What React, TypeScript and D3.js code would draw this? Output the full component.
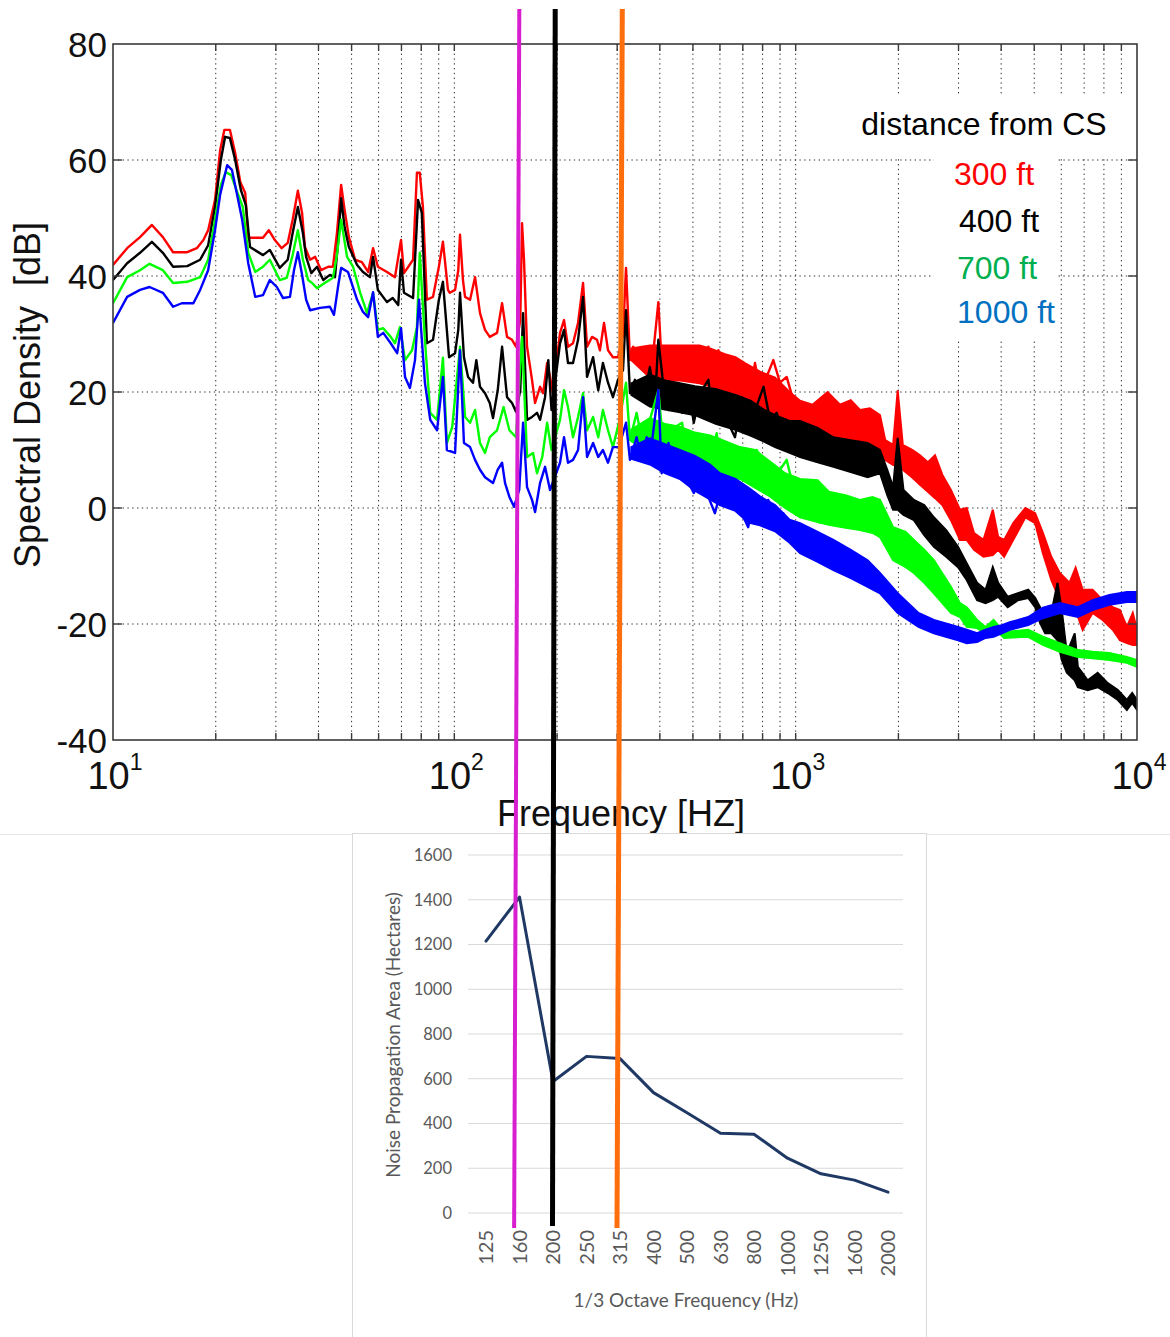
import React from 'react';
import * as d3 from 'd3';

// ---------- Top chart data (frequency Hz, dB) ----------
const redTrace: [number, number][] = [
  [10, 41.9], [11.0, 44.8], [12.0, 46.7], [13.0, 48.8], [14.0, 46.7], [15.0, 44.1], [16.5, 44.1], [17.6, 44.8], [18.4, 46.2], [19.0, 47.9], [19.9, 53.1], [20.6, 61.7], [21.2, 65.2], [22.0, 65.2], [22.8, 61.2], [23.6, 56.2], [24.4, 54.3], [24.9, 46.6], [27.5, 46.6], [28.6, 47.9], [29.8, 46.2], [31.2, 44.8], [32.5, 45.7], [33.6, 49.7], [34.8, 54.7], [35.8, 50.9], [36.5, 45.0], [37.8, 42.8], [39.1, 43.3], [40.7, 41.0], [42.7, 41.6], [44.1, 41.6], [45.3, 47.4], [46.6, 55.7], [47.7, 51.4], [49.1, 46.7], [51.2, 42.8], [53.6, 42.4], [55.9, 40.7], [57.8, 44.8], [59.7, 41.6], [63.5, 40.7], [67.0, 39.8], [69.8, 46.2], [71.2, 40.5], [75.7, 42.8], [77.7, 57.8], [79.2, 57.8], [80.9, 51.9], [83.1, 35.9], [86.6, 36.4], [90.1, 41.6], [92.6, 45.9], [95.8, 37.6], [97, 37.1], [100.5, 37.6], [102.7, 41.0], [103.9, 47.1], [106, 39.3], [107.5, 36.4], [111.2, 35.9], [115, 39.8], [118.9, 33.6], [123, 30.7], [127, 29.5], [133.4, 30.2], [138, 35.3], [142.7, 29.5], [147.6, 29.0], [151.6, 27.8], [156, 32.4], [157.9, 49.1], [160, 42.8], [163.3, 27.8], [168.9, 22.1], [172.4, 18.1], [178.3, 20.9], [182, 19.8], [187, 25.0], [190.7, 22.6], [194.5, 19.8], [204, 30.2], [209.6, 32.4], [215.3, 27.8], [222.7, 28.4], [230.4, 31.9], [238.3, 38.8], [244.8, 27.8], [253.2, 29.5], [261.8, 29.0], [267, 27.2], [274.5, 31.9], [282, 27.2], [291.5, 26.0], [301.7, 26.0], [312, 29.8], [318.4, 41.4],
  [327, 25.5], [334, 27.8], [350, 26.7], [366, 25.0], [379, 24.3], [396, 35.5], [405, 25.0], [419, 27.8], [439, 23.3], [465, 27.2], [481, 22.1], [497, 27.2], [525, 26.0], [555, 27.8], [574, 22.6], [594, 27.2], [614, 22.1], [635, 23.8], [664, 17.4], [702, 22.6], [734, 19.1], [760, 25.0], [786, 20.3], [831, 23.3], [860, 25.5], [900, 21.6], [941, 22.6], [984, 18.6], [1030, 17.4], [1077, 15.7], [1126, 17.4], [1178, 15.2],
];
const blackTrace: [number, number][] = [
  [10, 39.3], [11.0, 42.2], [12.0, 44.0], [13.0, 45.9], [14.0, 44.0], [15.0, 41.6], [16.5, 41.7], [18.0, 42.8], [19.0, 45.3], [19.9, 51.9], [20.7, 60.0], [21.3, 64.0], [22.0, 63.8], [22.8, 60.0], [23.7, 54.8], [24.5, 52.2], [25.2, 45.0], [27.5, 43.6], [28.8, 44.5], [30.8, 41.4], [32.5, 42.8], [33.6, 47.4], [34.8, 51.9], [36.0, 47.4], [36.8, 43.3], [38.1, 40.5], [39.6, 41.6], [41.3, 39.3], [43.2, 40.2], [44.7, 39.8], [45.7, 46.2], [46.6, 53.4], [47.7, 48.4], [49.1, 45.0], [51.9, 41.9], [54.0, 40.7], [56.6, 39.8], [57.8, 43.3], [59.7, 37.6], [63.5, 35.5], [66.0, 36.2], [68.5, 35.0], [69.8, 42.8], [71.2, 37.1], [75.7, 36.2], [78.3, 53.1], [80.3, 50.9], [83.1, 28.4], [86.6, 29.0], [90.1, 35.9], [92.6, 39.0], [96.5, 26.0], [100.5, 26.7], [102.7, 30.7], [103.9, 37.1], [106.7, 26.0], [109.7, 22.6], [113.4, 21.6], [116, 25.5], [118.9, 20.9], [123, 19.8], [127, 18.1], [129.8, 15.5], [134, 20.3], [138, 27.8], [142.7, 19.1], [147.6, 18.1], [151.6, 16.6], [156, 20.3], [159, 33.6], [163.3, 15.2], [168.9, 15.7], [174.7, 16.4], [178.3, 15.2], [184.4, 19.1], [188.5, 25.5], [192.6, 16.9], [204, 28.4], [209.6, 30.7], [215.3, 25.0], [222.7, 25.0], [230.4, 29.0], [238.3, 36.4], [244.8, 22.6], [255, 26.0], [264, 20.3], [272.5, 25.0], [282, 21.6], [291.5, 19.1], [301.7, 22.1], [312, 23.8], [318.4, 34.1],
  [327, 19.8], [338, 22.1], [350, 20.9], [362, 19.8], [374, 24.3], [387, 18.1], [396, 29.0], [410, 20.9], [424, 16.9], [444, 19.1], [465, 16.4], [486, 20.3], [503, 14.7], [525, 19.8], [555, 22.1], [574, 15.2], [601, 17.6], [628, 15.2], [664, 12.2], [695, 19.1], [726, 12.9], [769, 17.6], [805, 20.9], [841, 15.2], [880, 16.4], [920, 12.2], [962, 11.2], [1006, 12.2], [1051, 9.5], [1114, 9.5], [1178, 7.8],
];
const greenTrace: [number, number][] = [
  [10, 35.3], [11.0, 39.8], [12.0, 41.0], [12.8, 42.1], [14.0, 41.0], [15.0, 38.8], [16.5, 39.0], [18.0, 39.8], [19.0, 42.8], [19.9, 49.7], [20.7, 55.7], [21.4, 57.9], [22.2, 57.4], [23.0, 54.8], [24.0, 51.9], [24.9, 44.0], [26.1, 40.7], [27.5, 41.6], [28.8, 42.8], [30.8, 39.3], [32.3, 39.7], [33.6, 43.6], [34.8, 47.9], [36.0, 42.8], [37.3, 39.3], [38.3, 38.8], [39.6, 37.9], [41.7, 38.8], [44.1, 39.7], [45.3, 43.6], [46.6, 49.7], [48.5, 43.3], [50.5, 41.6], [53.0, 37.1], [55.5, 33.6], [57.8, 37.1], [59.7, 30.7], [61.9, 31.0], [65.1, 29.5], [67.0, 28.4], [69.3, 31.2], [71.7, 25.5], [75.2, 27.2], [77.7, 31.2], [79.2, 44.0], [82.0, 29.0], [85.0, 16.4], [89.0, 15.2], [92.6, 25.9], [95.1, 11.2], [98.6, 14.0], [103.9, 27.8], [107.5, 15.7], [111.2, 14.7], [115, 16.9], [118.9, 11.2], [123, 9.5], [127, 12.2], [133.4, 13.4], [139.4, 17.4], [145, 13.4], [151.6, 12.2], [157.9, 29.5], [163.3, 8.8], [170, 9.5], [174.7, 6.0], [181, 8.8], [187, 14.7], [192.6, 10.0], [204, 15.2], [209.6, 20.3], [215.3, 17.4], [222.7, 12.2], [230.4, 15.7], [238.3, 19.8], [244.8, 13.4], [255, 15.7], [264, 12.2], [272.5, 16.9], [282, 13.4], [291.5, 10.5], [303.5, 14.7], [318.4, 21.6],
  [327, 11.7], [342, 16.4], [358, 10.5], [374, 15.2], [396, 20.3], [410, 10.5], [429, 7.1], [444, 14.0], [465, 14.7], [481, 7.1], [503, 12.9], [531, 11.7], [555, 7.1], [587, 12.9], [614, 4.8], [643, 9.5], [673, 7.1], [720, 8.8], [752, 7.1], [769, 10.0], [821, 6.6], [860, 3.1], [900, 6.6], [941, 8.3], [984, 3.6], [1040, 0.2], [1077, 1.9], [1150, -2.1], [1178, -2.6],
];
const blueTrace: [number, number][] = [
  [10, 31.9], [11.0, 36.4], [12.0, 37.6], [12.8, 38.1], [14.0, 37.1], [15.0, 34.7], [15.9, 35.3], [17.2, 35.3], [18.0, 37.6], [19.0, 41.0], [19.9, 47.9], [20.6, 54.0], [21.6, 59.1], [22.3, 58.3], [23.1, 54.0], [23.9, 49.7], [24.9, 42.2], [26.1, 36.4], [27.5, 36.7], [28.8, 39.3], [30.2, 38.1], [31.5, 36.2], [33.0, 36.4], [33.9, 41.0], [34.8, 44.1], [35.8, 40.2], [36.8, 35.9], [37.8, 34.1], [40.4, 34.5], [43.2, 34.7], [44.4, 33.3], [45.7, 38.4], [46.6, 41.4], [48.8, 40.7], [51.9, 35.9], [54.0, 33.8], [55.9, 32.9], [57.8, 37.2], [59.7, 29.5], [61.9, 30.2], [65.1, 28.4], [68.0, 26.7], [69.8, 31.0], [71.7, 22.6], [74.1, 20.7], [76.7, 25.5], [78.8, 35.9], [82.0, 21.6], [85.0, 15.2], [89.0, 13.4], [92.6, 22.6], [95.1, 10.0], [100.5, 9.5], [103.9, 27.2], [106.7, 11.2], [111.2, 10.5], [115, 8.3], [118.9, 6.6], [123, 5.3], [129.8, 4.3], [134, 6.6], [138, 7.8], [140.8, 4.3], [145, 1.9], [149.6, 0.2], [154.9, 3.1], [159, 14.7], [163.3, 3.6], [168.9, 1.4], [172.4, -0.7], [178.3, 4.3], [184.4, 7.1], [190.7, 3.1], [204, 7.8], [209.6, 12.2], [215.3, 7.8], [222.7, 8.3], [230.4, 10.0], [238.3, 19.1], [244.8, 8.8], [255, 11.2], [264, 8.8], [272.5, 10.0], [282, 7.8], [291.5, 10.5], [303.5, 10.5], [318.4, 14.7],
  [327, 8.3], [342, 12.2], [354, 8.3], [366, 12.2], [379, 11.2], [396, 20.3], [405, 6.0], [424, 11.2], [439, 7.1], [458, 8.3], [481, 4.8], [503, 2.6], [525, 4.8], [549, 2.6], [580, -0.9], [601, 2.6], [628, 5.3], [657, 1.4], [695, -0.9], [726, -3.3], [760, 2.6], [795, -0.9], [831, 1.4], [880, -2.1], [920, -0.9], [962, -3.3], [1006, -4.3], [1062, -5.5], [1126, -7.8], [1178, -6.7],
];

// dense high-frequency part: [frequency, lower dB, upper dB]
const redBand: [number, number, number][] = [
  [330, 25.5, 27.5], [374, 22.5, 28.0], [414, 22.0, 28.0], [458, 22.0, 28.0], [523, 21.5, 28.0], [561, 21.0, 27.5], [621, 19.5, 26.5], [666, 19.0, 26.0], [710, 18.5, 25.0], [786, 17.0, 23.5], [870, 16.0, 22.5], [960, 14.5, 20.0], [1030, 12.5, 18.5],
  [1120, 11.7, 17.8], [1240, 11.7, 20.0], [1349, 11.2, 17.8], [1450, 11.2, 18.6], [1544, 10.9, 16.9], [1650, 10.3, 17.2], [1766, 9.1, 16.0], [1830, 8.3, 11.7], [1930, 7.4, 10.9], [1990, 7.4, 20.3], [2060, 6.6, 10.9], [2200, 5.2, 10.0], [2313, 4.0, 9.1], [2440, 2.8, 7.9], [2560, 1.7, 9.1], [2690, 0.5, 5.7], [2850, -2.1, 3.1], [3030, -5.5, -0.3], [3170, -5.5, 0.0], [3330, -7.2, -4.3], [3550, -8.4, -5.5], [3780, -8.1, -0.3], [3920, -7.2, -5.0], [4080, -8.4, -5.5], [4340, -5.5, -2.6], [4710, -1.6, 0.0], [5030, -2.6, -0.9], [5300, -7.8, -4.3], [5610, -12.4, -8.4], [5940, -15.9, -11.2], [6340, -18.1, -12.9], [6610, -17.6, -10.3], [6930, -21.0, -14.1], [7410, -18.1, -14.1], [7930, -19.3, -15.9], [8490, -21.0, -17.1], [8910, -22.8, -17.6], [9340, -23.3, -20.5], [9720, -23.6, -18.1], [10000, -23.6, -21.0],
];
const blackBand: [number, number, number][] = [
  [330, 19.5, 21.5], [374, 17.5, 23.0], [414, 17.0, 22.0], [458, 16.5, 21.5], [507, 16.0, 21.0], [583, 14.5, 20.5], [666, 13.5, 19.5], [737, 12.5, 18.5], [805, 11.5, 17.0], [870, 10.5, 16.0], [960, 9.5, 15.0], [1030, 8.8, 15.0],
  [1160, 7.9, 13.8], [1290, 7.1, 12.2], [1450, 6.2, 11.7], [1625, 5.3, 11.2], [1766, 6.0, 10.0], [1855, 2.2, 6.6], [1930, -0.3, 3.6], [1990, -0.3, 12.1], [2070, -1.2, 3.1], [2220, -2.1, 1.4], [2380, -4.7, 0.5], [2540, -6.7, -1.6], [2760, -8.4, -3.8], [2990, -10.2, -6.7], [3170, -12.4, -9.5], [3400, -15.9, -12.9], [3600, -16.4, -14.1], [3780, -15.9, -10.2], [3920, -15.3, -12.9], [4180, -17.1, -15.3], [4480, -15.9, -14.7], [4800, -15.5, -14.1], [5030, -17.1, -15.5], [5200, -19.8, -17.1], [5380, -21.6, -19.3], [5610, -21.6, -18.1], [5850, -22.8, -12.9], [6020, -26.2, -17.6], [6230, -28.4, -25.0], [6570, -29.7, -21.6], [6710, -30.9, -27.4], [7170, -31.4, -29.7], [7670, -30.9, -28.4], [8210, -31.9, -30.2], [8790, -33.1, -31.4], [9340, -34.8, -33.1], [9680, -33.6, -31.9], [10000, -34.8, -33.1],
];
const greenBand: [number, number, number][] = [
  [330, 11.5, 13.5], [374, 10.0, 15.5], [414, 8.5, 14.5], [458, 8.0, 14.0], [507, 7.5, 13.0], [561, 6.0, 12.5], [621, 5.5, 11.5], [687, 5.0, 10.5], [760, 3.5, 10.0], [841, 2.0, 8.0], [931, 0.0, 6.0], [1030, -1.6, 5.0],
  [1160, -2.4, 4.8], [1250, -2.9, 2.8], [1400, -3.4, 2.2], [1544, -3.8, 1.4], [1680, -4.3, 1.9], [1766, -5.0, 1.4], [1930, -9.0, -3.3], [2100, -10.2, -4.1], [2220, -11.2, -5.5], [2380, -12.9, -7.2], [2540, -14.7, -9.0], [2850, -18.1, -13.6], [3030, -18.8, -16.4], [3170, -20.5, -17.1], [3400, -20.7, -19.3], [3600, -21.6, -20.5], [3800, -20.7, -19.3], [4080, -22.4, -21.4], [4800, -22.2, -21.0], [5300, -23.6, -22.2], [5940, -24.8, -23.3], [6710, -25.7, -24.5], [7410, -25.9, -24.8], [8300, -26.2, -25.0], [9340, -26.7, -25.7], [10000, -27.4, -26.2],
];
const blueBand: [number, number, number][] = [
  [330, 8.5, 10.5], [374, 7.5, 12.0], [414, 6.0, 11.0], [458, 5.0, 10.0], [507, 3.0, 9.0], [561, 1.5, 7.5], [600, 0.5, 6.0], [666, -0.5, 5.0], [728, -2.5, 3.5], [786, -3.0, 2.0], [870, -4.0, 0.5], [960, -6.0, -2.0], [1030, -7.8, -2.6],
  [1160, -9.3, -4.1], [1290, -10.7, -5.5], [1450, -12.1, -7.2], [1625, -13.6, -9.0], [1766, -14.7, -11.2], [1990, -18.1, -14.7], [2290, -20.5, -18.1], [2540, -21.6, -19.3], [2990, -22.8, -20.5], [3170, -23.3, -21.0], [3400, -23.1, -21.6], [3600, -22.4, -21.0], [3800, -22.2, -20.5], [4020, -21.6, -20.2], [4240, -21.0, -19.7], [4800, -20.2, -18.8], [5300, -19.0, -17.2], [5940, -18.1, -16.4], [6710, -18.8, -17.1], [7410, -17.6, -15.9], [8300, -16.7, -15.0], [9340, -16.2, -14.5], [10000, -16.2, -14.5],
];

const seriesColors = ['#ff0000', '#000000', '#00ff00', '#0000ff'];
const legendTitle = 'distance from CS';
const legendLabels = ['300 ft', '400 ft', '700 ft', '1000 ft'];
const legendColors = ['#ff0000', '#000000', '#00b050', '#0070c0'];
const dbTicks = [-40, -20, 0, 20, 40, 60, 80];
const decadeTicks = [10, 100, 1000, 10000];
const decadeExponents = ['1', '2', '3', '4'];

// ---------- Bottom chart data ----------
const octaveBands = ['125', '160', '200', '250', '315', '400', '500', '630', '800', '1000', '1250', '1600', '2000'];
const propagationArea = [1215, 1412, 588, 700, 690, 538, 448, 356, 352, 245, 175, 147, 93];
const areaTicks = [0, 200, 400, 600, 800, 1000, 1200, 1400, 1600];

// ---------- Marker lines drawn across both charts ----------
const markerColors = ['#d81fcf', '#000000', '#ff6e0c'];
const markerTopFreq = [155, 197.5, 310.5]; // where each line leaves the top chart (Hz)
const markerBottomIndex = [0.84, 1.985, 3.91]; // position on bottom chart, in category steps

export default function App() {
  const x = d3.scaleLog().domain([10, 10000]).range([113, 1137]);
  const y = d3.scaleLinear().domain([-40, 80]).range([740, 44]);
  const line = d3.line<[number, number]>().x(d => x(d[0])).y(d => y(d[1]));
  const area = d3.area<[number, number, number]>().x(d => x(d[0])).y0(d => y(d[1])).y1(d => y(d[2]));

  const minor: number[] = [];
  [10, 100, 1000].forEach(dec => { for (let k = 1; k <= 9; k++) minor.push(k * dec); });
  minor.push(10000);
  const inner = minor.filter(v => v > 10 && v < 10000);

  const traces = [redTrace, blackTrace, greenTrace, blueTrace];
  const bands = [redBand, blackBand, greenBand, blueBand];

  const xb = d3.scalePoint<string>().domain(octaveBands).range([486, 888]);
  const yb = d3.scaleLinear().domain([0, 1600]).range([1213, 855]);
  const bottomLine = d3.line<number>().x((_, i) => xb(octaveBands[i]) as number).y(d => yb(d));

  const topFont = "'Liberation Sans', Arial, sans-serif";
  const botFont = "Lato, 'Open Sans', sans-serif";

  return (
    <div style={{ position: 'absolute', left: 0, top: 0 }}>
      <svg width={1170} height={1337} viewBox="0 0 1170 1337" style={{ display: 'block', background: '#fff' }}>
        <defs>
          <clipPath id="plotClip">
            <rect x={113} y={44} width={1024} height={696} />
          </clipPath>
        </defs>
        <rect x={0} y={0} width={1170} height={1337} fill="#fff" />

        {/* grid */}
        <g stroke="#333" strokeWidth={1} strokeDasharray="1.4,3.4" fill="none">
          {inner.map(v => (
            <line key={'gv' + v} x1={x(v)} x2={x(v)} y1={44} y2={740} />
          ))}
          {dbTicks.filter(v => v > -40 && v < 80).map(v => (
            <line key={'gh' + v} x1={113} x2={1137} y1={y(v)} y2={y(v)} />
          ))}
        </g>

        {/* legend background boxes */}
        <rect x={850} y={95} width={278} height={63} fill="#fff" />
        <rect x={934} y={158} width={123} height={182} fill="#fff" />

        {/* curves */}
        <g clipPath="url(#plotClip)">
          {traces.map((t, i) => (
            <g key={'s' + i}>
              <path d={area(bands[i]) as string} fill={seriesColors[i]} stroke={seriesColors[i]} strokeWidth={2} strokeLinejoin="miter" />
              <path d={line(t) as string} fill="none" stroke={seriesColors[i]} strokeWidth={2.4} strokeLinejoin="round" />
            </g>
          ))}
        </g>

        {/* frame and ticks */}
        <rect x={113} y={44} width={1024} height={696} fill="none" stroke="#3a3a3a" strokeWidth={1.6} />
        <g stroke="#3a3a3a" strokeWidth={1.4}>
          {inner.map(v => (
            <g key={'tk' + v}>
              <line x1={x(v)} x2={x(v)} y1={740} y2={733} />
              <line x1={x(v)} x2={x(v)} y1={44} y2={51} />
            </g>
          ))}
          {dbTicks.filter(v => v > -40 && v < 80).map(v => (
            <g key={'ty' + v}>
              <line x1={113} x2={122} y1={y(v)} y2={y(v)} />
              <line x1={1128} x2={1137} y1={y(v)} y2={y(v)} />
            </g>
          ))}
        </g>

        {/* y tick labels */}
        <g fontFamily={topFont} fontSize={35} fill="#111" textAnchor="end">
          {dbTicks.map(v => (
            <text key={'yl' + v} x={107} y={y(v)} dy="0.36em">{v}</text>
          ))}
        </g>
        {/* x tick labels */}
        <g fontFamily={topFont} fill="#111" textAnchor="middle">
          {decadeTicks.map((v, i) => (
            <text key={'xl' + v} x={x(v) + 2} y={789} fontSize={38}>
              10<tspan dy={-19} fontSize={23}>{decadeExponents[i]}</tspan>
            </text>
          ))}
        </g>
        <text x={621} y={826} fontFamily={topFont} fontSize={36} fill="#111" textAnchor="middle">Frequency [HZ]</text>
        <text transform="translate(40,395) rotate(-90)" fontFamily={topFont} fontSize={36} fill="#111" textAnchor="middle" style={{ whiteSpace: 'pre' }}>Spectral Density  [dB]</text>

        {/* legend */}
        <g fontFamily={topFont} fontSize={32} textAnchor="middle">
          <text x={984} y={135} fill="#000">{legendTitle}</text>
          {legendLabels.map((l, i) => (
            <text key={l} x={[994, 999, 997, 1006][i]} y={[185, 232, 279, 323][i]} fill={legendColors[i]}>{l}</text>
          ))}
        </g>

        {/* ---------- bottom chart ---------- */}
        <line x1={0} x2={1170} y1={834.5} y2={834.5} stroke="#e6e6e6" strokeWidth={1} />
        <rect x={352.5} y={833.5} width={574} height={520} fill="#fff" stroke="#d9d9d9" strokeWidth={1} />
        <g stroke="#d9d9d9" strokeWidth={1}>
          {areaTicks.map(v => (
            <line key={'bg' + v} x1={468} x2={903} y1={yb(v)} y2={yb(v)} />
          ))}
        </g>
        <g fontFamily={botFont} fontSize={16.5} fill="#595959" textAnchor="end">
          {areaTicks.map(v => (
            <text key={'bl' + v} x={452} y={yb(v)} dy="0.35em">{v}</text>
          ))}
        </g>
        <g fontFamily={botFont} fontSize={20} fill="#595959" textAnchor="end">
          {octaveBands.map(c => (
            <text key={'bx' + c} transform={`translate(${xb(c)},1230) rotate(-90)`} dy="0.35em">{c}</text>
          ))}
        </g>
        <path d={bottomLine(propagationArea) as string} fill="none" stroke="#1f3864" strokeWidth={3} strokeLinejoin="round" strokeLinecap="round" />
        <text transform="translate(400,1035) rotate(-90)" fontFamily={botFont} fontSize={19} fill="#595959" textAnchor="middle">Noise Propagation Area (Hectares)</text>
        <text x={686} y={1307} fontFamily={botFont} fontSize={19} fill="#595959" textAnchor="middle">1/3 Octave Frequency (Hz)</text>

        {/* marker lines */}
        {markerColors.map((c, i) => (
          <line key={'m' + i} x1={x(markerTopFreq[i])} y1={9} x2={486 + markerBottomIndex[i] * xb.step()} y2={i === 1 ? 1226 : 1228} stroke={c} strokeWidth={i === 0 ? 4 : 5} />
        ))}
      </svg>
    </div>
  );
}
